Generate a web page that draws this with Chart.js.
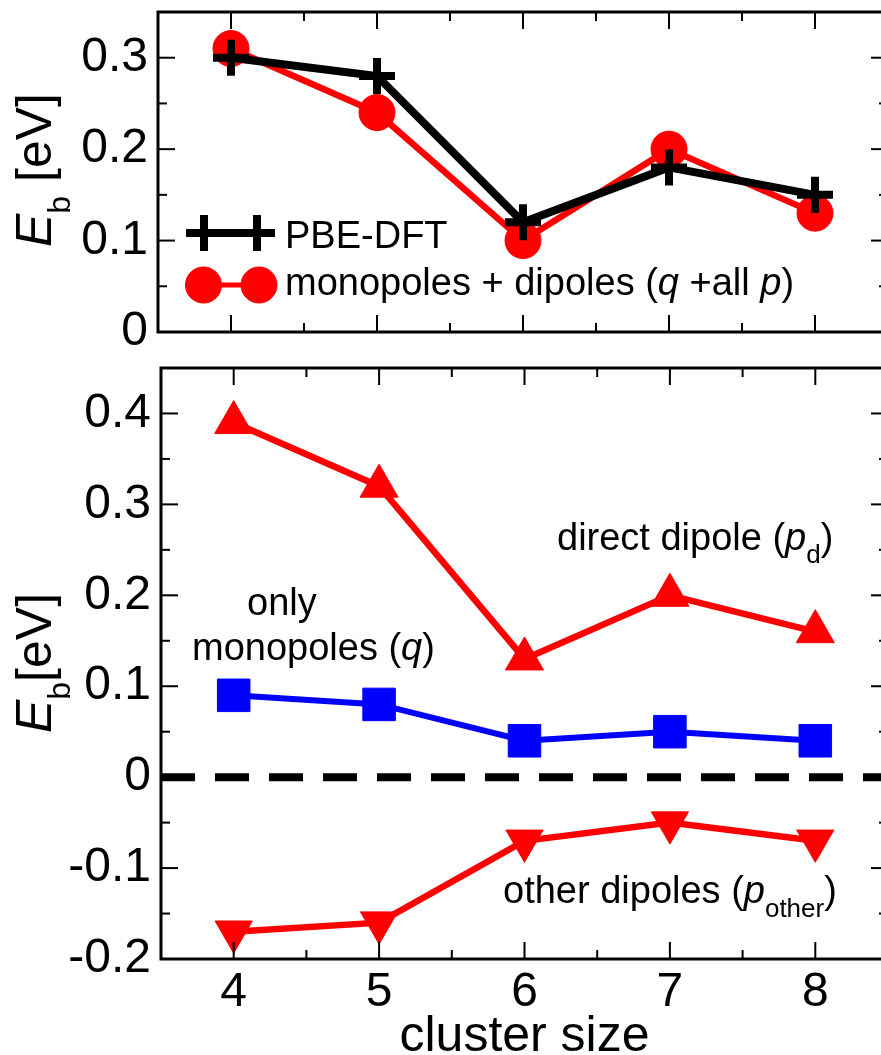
<!DOCTYPE html>
<html>
<head>
<meta charset="utf-8">
<script src="https://cdn.jsdelivr.net/npm/chart.js@4.4.1/dist/chart.umd.min.js"></script>
<style>
html,body{margin:0;padding:0;background:#fff;overflow:hidden;width:881px;height:1055px;}
#wrap{position:relative;width:881px;height:1055px;overflow:hidden;background:#fff;}
canvas{position:absolute;left:0;}
#c1{top:0;}
#c2{top:345px;}
</style>
</head>
<body>
<div id="wrap">
<canvas id="c1" width="895" height="345"></canvas>
<canvas id="c2" width="895" height="710"></canvas>
</div>
<script>
// ---- data ----
const clusterSizes = [4, 5, 6, 7, 8];
const pbeDft = [0.30, 0.28, 0.12, 0.18, 0.15];
const qAllP = [0.31, 0.24, 0.10, 0.20, 0.13];
const directDipole = [0.39, 0.32, 0.13, 0.20, 0.16];
const onlyMonopoles = [0.09, 0.08, 0.04, 0.05, 0.04];
const otherDipoles = [-0.17, -0.16, -0.07, -0.05, -0.07];
const zeroLineX = [3.5, 8.5];
const zeroLineY = [0, 0];
const xRange = [3.5, 8.5];
const xTicks = [4, 5, 6, 7, 8];
const xTickLabels = ['4', '5', '6', '7', '8'];
const yRangeTop = [0, 0.35];
const yTicksTop = [0, 0.1, 0.2, 0.3];
const yTickLabelsTop = ['0', '0.1', '0.2', '0.3'];
const yRangeBottom = [-0.2, 0.45];
const yTicksBottom = [-0.2, -0.1, 0, 0.1, 0.2, 0.3, 0.4];
const yTickLabelsBottom = ['-0.2', '-0.1', '0', '0.1', '0.2', '0.3', '0.4'];

const FONT = '"Liberation Sans", Arial, Helvetica, sans-serif';
const RED = '#ff0000', BLUE = '#0000ff', BLACK = '#000000';

function pts(xs, ys) { return xs.map((x, i) => ({ x: x, y: ys[i] })); }

function runFont(r) { return (r.it ? 'italic ' : '') + r.size + 'px ' + FONT; }
function drawRich(ctx, x, y, runs, align, rot) {
  ctx.save();
  ctx.translate(x, y);
  if (rot) ctx.rotate(rot);
  let w = 0;
  runs.forEach(r => { ctx.font = runFont(r); r.w = ctx.measureText(r.t).width; w += r.w; });
  let cx = align === 'center' ? -w / 2 : (align === 'right' ? -w : 0);
  ctx.fillStyle = '#000';
  ctx.textBaseline = 'alphabetic';
  ctx.textAlign = 'left';
  runs.forEach(r => { ctx.font = runFont(r); ctx.fillText(r.t, cx, r.dy || 0); cx += r.w; });
  ctx.restore();
}

// frame + inward ticks on all four sides
const framePlugin = {
  id: 'frame',
  afterDatasetsDraw(chart, args, opts) {
    const ctx = chart.ctx, a = chart.chartArea, xs = chart.scales.x, ys = chart.scales.y;
    const major = 17, minor = 9;
    ctx.save();
    ctx.strokeStyle = '#000';
    ctx.lineWidth = 2;
    const seg = (x1, y1, x2, y2) => { ctx.beginPath(); ctx.moveTo(x1, y1); ctx.lineTo(x2, y2); ctx.stroke(); };
    const xMaj = opts.xMajor, yMaj = opts.yMajor;
    const xStep = xMaj[1] - xMaj[0], yStep = yMaj[1] - yMaj[0];
    xMaj.forEach(v => { const p = xs.getPixelForValue(v); seg(p, a.bottom, p, a.bottom - major); seg(p, a.top, p, a.top + major); });
    for (let v = xMaj[0] - xStep / 2; v < xs.max - 1e-6; v += xStep) {
      if (v <= xs.min + 1e-6) continue;
      const p = xs.getPixelForValue(v); seg(p, a.bottom, p, a.bottom - minor); seg(p, a.top, p, a.top + minor);
    }
    yMaj.forEach(v => { const p = ys.getPixelForValue(v); seg(a.left, p, a.left + major, p); seg(a.right, p, a.right - major, p); });
    for (let v = yMaj[0] - yStep / 2; v < ys.max - 1e-6; v += yStep) {
      if (v <= ys.min + 1e-6) continue;
      const p = ys.getPixelForValue(v); seg(a.left, p, a.left + minor, p); seg(a.right, p, a.right - minor, p);
    }
    ctx.lineWidth = 3;
    ctx.strokeRect(a.left, a.top, a.right - a.left, a.bottom - a.top);
    ctx.restore();
  }
};

// texts (titles / annotations / legend)
const textPlugin = {
  id: 'texts',
  afterDraw(chart, args, opts) {
    const ctx = chart.ctx;
    (opts.items || []).forEach(it => drawRich(ctx, it.x, it.y, it.runs, it.align, it.rot));
    (opts.legend || []).forEach(lg => {
      ctx.save();
      ctx.strokeStyle = lg.color; ctx.lineWidth = lg.lineWidth;
      ctx.beginPath(); ctx.moveTo(lg.x1, lg.y); ctx.lineTo(lg.x2, lg.y); ctx.stroke();
      const po = { pointStyle: lg.style, radius: lg.radius, rotation: 0, borderWidth: lg.borderWidth };
      ctx.fillStyle = lg.color; ctx.strokeStyle = lg.color; ctx.lineWidth = lg.borderWidth;
      Chart.helpers.drawPoint(ctx, po, lg.x1, lg.y);
      Chart.helpers.drawPoint(ctx, po, lg.x2, lg.y);
      ctx.restore();
    });
  }
};

function yScale(range, ticks, labels, width) {
  return {
    type: 'linear', min: range[0], max: range[1],
    grid: { display: false, drawTicks: false },
    border: { display: false },
    afterBuildTicks: s => { s.ticks = ticks.map(v => ({ value: v })); },
    ticks: {
      padding: 10, color: '#000', font: { family: FONT, size: 48 },
      callback: (v, i) => labels[i]
    },
    afterFit: s => { s.width = width; s.paddingTop = 0; s.paddingBottom = 0; s.paddingLeft = 0; s.paddingRight = 0; }
  };
}
function xScale(showLabels, height) {
  return {
    type: 'linear', min: xRange[0], max: xRange[1],
    grid: { display: false, drawTicks: false },
    border: { display: false },
    afterBuildTicks: s => { s.ticks = xTicks.map(v => ({ value: v })); },
    ticks: {
      display: showLabels, padding: 5, color: '#000', font: { family: FONT, size: 48 },
      maxRotation: 0, autoSkip: false,
      callback: (v, i) => xTickLabels[i]
    },
    afterFit: s => { s.height = height; s.paddingLeft = 0; s.paddingRight = 0; s.paddingTop = 0; s.paddingBottom = 0; }
  };
}

const common = {
  responsive: false, animation: false, events: [],
  plugins: { legend: { display: false }, tooltip: { enabled: false } }
};

// ---------- top panel ----------
new Chart(document.getElementById('c1'), {
  type: 'line',
  data: {
    datasets: [
      {
        data: pts(clusterSizes, pbeDft), borderColor: BLACK, borderWidth: 8, tension: 0,
        pointStyle: 'cross', pointRadius: 18, pointBorderWidth: 8, pointBorderColor: BLACK,
        pointBackgroundColor: BLACK
      },
      {
        data: pts(clusterSizes, qAllP), borderColor: RED, borderWidth: 6.5, tension: 0,
        pointStyle: 'circle', pointRadius: 18, pointBorderWidth: 1, pointBorderColor: RED,
        pointBackgroundColor: RED
      }
    ]
  },
  options: Object.assign({}, common, {
    layout: { autoPadding: false, padding: { top: 12, right: 7, left: 0, bottom: 0 } },
    scales: { x: xScale(false, 13), y: yScale(yRangeTop, yTicksTop, yTickLabelsTop, 158) },
    plugins: Object.assign({}, common.plugins, {
      frame: { xMajor: xTicks, yMajor: yTicksTop },
      texts: {
        items: [
          { x: 51, y: 170, rot: -Math.PI / 2, align: 'center',
            runs: [{ t: 'E', it: true, size: 50 }, { t: 'b', size: 32, dy: 19 }, { t: ' [eV]', size: 50 }] },
          { x: 285, y: 248, align: 'left', runs: [{ t: 'PBE-DFT', size: 38 }] },
          { x: 285, y: 295, align: 'left',
            runs: [{ t: 'monopoles + dipoles (', size: 38 }, { t: 'q', it: true, size: 38 },
                   { t: ' +all ', size: 38 }, { t: 'p', it: true, size: 38 }, { t: ')', size: 38 }] }
        ],
        legend: [
          { x1: 204, x2: 257, y: 233, color: BLACK, lineWidth: 8, style: 'cross', radius: 18, borderWidth: 8 },
          { x1: 203.5, x2: 259, y: 285, color: RED, lineWidth: 5, style: 'circle', radius: 18, borderWidth: 1 }
        ]
      }
    })
  }),
  plugins: [framePlugin, textPlugin]
});

// ---------- bottom panel ----------
new Chart(document.getElementById('c2'), {
  type: 'line',
  data: {
    datasets: [
      {
        data: pts(clusterSizes, directDipole), borderColor: RED, borderWidth: 6.5, tension: 0,
        pointStyle: 'triangle', pointRadius: 22, pointBorderWidth: 1, pointBorderColor: RED,
        pointBackgroundColor: RED
      },
      {
        data: pts(clusterSizes, onlyMonopoles), borderColor: BLUE, borderWidth: 6, tension: 0,
        pointStyle: 'rect', pointRadius: 23, pointBorderWidth: 1, pointBorderColor: BLUE,
        pointBackgroundColor: BLUE
      },
      {
        data: pts(clusterSizes, otherDipoles), borderColor: RED, borderWidth: 6.5, tension: 0,
        pointStyle: 'triangle', pointRotation: 180, pointRadius: 21.5, pointBorderWidth: 1,
        pointBorderColor: RED, pointBackgroundColor: RED
      },
      {
        data: pts(zeroLineX, zeroLineY), borderColor: BLACK, borderWidth: 8, borderDash: [34, 20],
        borderCapStyle: 'butt', pointRadius: 0, tension: 0
      }
    ]
  },
  options: Object.assign({}, common, {
    layout: { autoPadding: false, padding: { top: 23, right: 7, left: 0, bottom: 0 } },
    scales: { x: xScale(true, 96), y: yScale(yRangeBottom, yTicksBottom, yTickLabelsBottom, 161) },
    plugins: Object.assign({}, common.plugins, {
      frame: { xMajor: xTicks, yMajor: yTicksBottom },
      texts: {
        items: [
          { x: 51, y: 318, rot: -Math.PI / 2, align: 'center',
            runs: [{ t: 'E', it: true, size: 50 }, { t: 'b', size: 32, dy: 19 }, { t: '[eV]', size: 50 }] },
          { x: 524.5, y: 706, align: 'center', runs: [{ t: 'cluster size', size: 50 }] },
          { x: 557, y: 205, align: 'left',
            runs: [{ t: 'direct dipole (', size: 38 }, { t: 'p', it: true, size: 38 },
                   { t: 'd', size: 26, dy: 13 }, { t: ')', size: 38 }] },
          { x: 247, y: 270, align: 'left', runs: [{ t: 'only', size: 38 }] },
          { x: 192, y: 315, align: 'left',
            runs: [{ t: 'monopoles (', size: 38 }, { t: 'q', it: true, size: 38 }, { t: ')', size: 38 }] },
          { x: 503, y: 558, align: 'left',
            runs: [{ t: 'other dipoles (', size: 38 }, { t: 'p', it: true, size: 38 },
                   { t: 'other', size: 26, dy: 14 }, { t: ')', size: 38 }] }
        ]
      }
    })
  }),
  plugins: [framePlugin, textPlugin]
});
</script>
</body>
</html>
